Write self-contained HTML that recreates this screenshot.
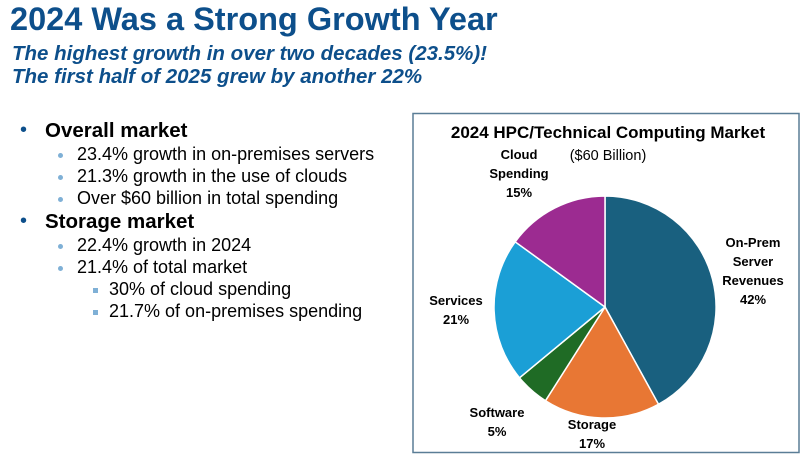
<!DOCTYPE html>
<html><head><meta charset="utf-8"><style>
body{margin:0;width:808px;height:462px;background:#fff;overflow:hidden;font-family:"Liberation Sans",Arial,sans-serif;position:relative}
.a{position:absolute;white-space:nowrap}
.t{left:10px;top:1px;font-size:32.5px;font-weight:bold;color:#0d4f8b}
.s{left:12px;font-size:20.5px;font-weight:bold;font-style:italic;color:#0d4f8b}
.l1{font-size:20.5px;font-weight:bold;color:#000;left:45px}
.l2{font-size:18px;color:#000;left:77px}
.l3{font-size:18px;color:#000;left:109px}
.b1{left:20px;font-size:20px;color:#0d4f8b}
.b2{width:5px;height:5px;border-radius:50%;background:#7fb0d6;left:58px}
.b3{width:5px;height:5px;background:#7fb0d6;left:93px}
</style></head><body>
<div class="a t">2024 Was a Strong Growth Year</div>
<div class="a s" style="top:42px">The highest growth in over two decades (23.5%)!</div>
<div class="a s" style="top:65px">The first half of 2025 grew by another 22%</div>

<div class="a b1" style="top:119px">•</div><div class="a l1" style="top:119px">Overall market</div>
<div class="a b2" style="top:153px"></div><div class="a l2" style="top:144px">23.4% growth in on-premises servers</div>
<div class="a b2" style="top:175px"></div><div class="a l2" style="top:166px">21.3% growth in the use of clouds</div>
<div class="a b2" style="top:197px"></div><div class="a l2" style="top:188px">Over $60 billion in total spending</div>
<div class="a b1" style="top:210px">•</div><div class="a l1" style="top:210px">Storage market</div>
<div class="a b2" style="top:244px"></div><div class="a l2" style="top:235px">22.4% growth in 2024</div>
<div class="a b2" style="top:266px"></div><div class="a l2" style="top:257px">21.4% of total market</div>
<div class="a b3" style="top:288px"></div><div class="a l3" style="top:279px">30% of cloud spending</div>
<div class="a b3" style="top:310px"></div><div class="a l3" style="top:301px">21.7% of on-premises spending</div>

<svg class="a" style="left:0;top:0" width="808" height="462">
<rect x="413" y="113.5" width="386" height="339" fill="none" stroke="#5a7d96" stroke-width="1.5"/>
<g stroke="#fff" stroke-width="1.5">
<path d="M605,307 L605,196 A111,111 0 0 1 658.5,404.3 Z" fill="#19607f"/>
<path d="M605,307 L658.5,404.3 A111,111 0 0 1 545.5,400.7 Z" fill="#e87734"/>
<path d="M605,307 L545.5,400.7 A111,111 0 0 1 519.5,377.8 Z" fill="#1f6b25"/>
<path d="M605,307 L519.5,377.8 A111,111 0 0 1 515.2,241.8 Z" fill="#1b9fd6"/>
<path d="M605,307 L515.2,241.8 A111,111 0 0 1 605,196 Z" fill="#9c2b91"/>
</g>
<g font-family="Liberation Sans,sans-serif" text-anchor="middle">
<text x="608" y="138" font-size="17" font-weight="bold">2024 HPC/Technical Computing Market</text>
<text x="608" y="160" font-size="14.5">($60 Billion)</text>
<g font-size="13" font-weight="bold">
<text x="519" y="159">Cloud</text><text x="519" y="178">Spending</text><text x="519" y="197">15%</text>
<text x="753" y="247">On-Prem</text><text x="753" y="266">Server</text><text x="753" y="285">Revenues</text><text x="753" y="304">42%</text>
<text x="456" y="305">Services</text><text x="456" y="324">21%</text>
<text x="497" y="417">Software</text><text x="497" y="436">5%</text>
<text x="592" y="429">Storage</text><text x="592" y="448">17%</text>
</g></g>
</svg>
</body></html>
